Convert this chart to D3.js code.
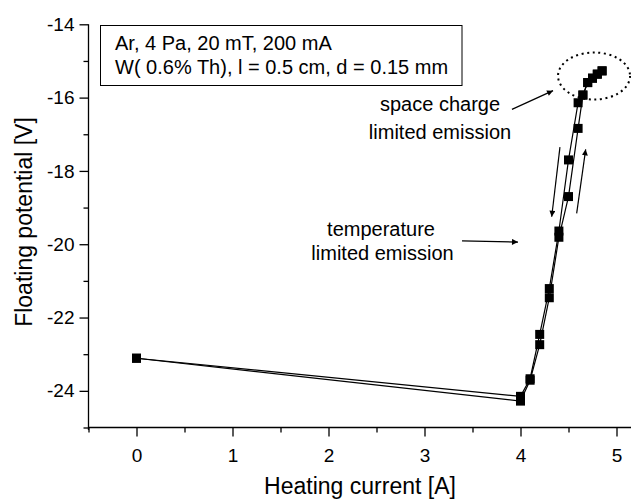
<!DOCTYPE html>
<html>
<head>
<meta charset="utf-8">
<script src="https://cdn.jsdelivr.net/npm/d3@7"></script>
<style>
  html, body { margin: 0; padding: 0; background: #fff; }
  svg { display: block; font-family: "Liberation Sans", Arial, Helvetica, sans-serif; }
</style>
</head>
<body>
<svg id="chart" width="631" height="500"></svg>
<script>
// ---- data ----
const upCurrent   = [0, 4.0, 4.1, 4.2, 4.3, 4.4, 4.5, 4.6, 4.65, 4.7, 4.75, 4.8, 4.85];
const upPotential = [-23.11, -24.28, -23.71, -22.74, -21.46, -19.81, -18.70, -16.84, -15.93, -15.59, -15.47, -15.36, -15.27];
const downCurrent   = [4.85, 4.8, 4.75, 4.7, 4.65, 4.6, 4.5, 4.4, 4.3, 4.2, 4.1, 4.0, 0];
const downPotential = [-15.27, -15.36, -15.47, -15.59, -15.93, -16.14, -17.70, -19.64, -21.21, -22.46, -23.67, -24.15, -23.11];

const xMajorTicks = [0, 1, 2, 3, 4, 5];
const xMinorTicks = [-0.5, 0.5, 1.5, 2.5, 3.5, 4.5];
const yMajorTicks = [-24, -22, -20, -18, -16, -14];
const yMinorTicks = [-25, -23, -21, -19, -17, -15];

const legendLines = ["Ar, 4 Pa, 20 mT, 200 mA", "W( 0.6% Th), l = 0.5 cm, d = 0.15 mm"];
const xTitle = "Heating current [A]";
const yTitle = "Floating potential [V]";

// ---- layout ----
const svg = d3.select("#chart");
const x = d3.scaleLinear().domain([-0.5, 5.2]).range([88.5, 635.7]);
const y = d3.scaleLinear().domain([-25, -14]).range([427.5, 24.3]);

const defs = svg.append("defs");
defs.append("marker")
  .attr("id", "arrow")
  .attr("viewBox", "0 0 10 10")
  .attr("refX", 10).attr("refY", 5)
  .attr("markerUnits", "userSpaceOnUse")
  .attr("markerWidth", 9).attr("markerHeight", 6)
  .attr("orient", "auto")
  .append("path").attr("d", "M0,0 L10,5 L0,10 Z").attr("fill", "#000");

// axes
const axisFont = 19;
const gx = svg.append("g").attr("transform", `translate(0,${y(-25)})`);
gx.call(d3.axisBottom(x).tickValues(xMinorTicks).tickSize(5).tickSizeOuter(0).tickFormat(""));
gx.select(".domain").remove();
const gx2 = svg.append("g").attr("transform", `translate(0,${y(-25)})`);
gx2.call(d3.axisBottom(x).tickValues(xMajorTicks).tickSize(9).tickSizeOuter(0).tickPadding(12).tickFormat(d3.format("d")));
gx2.select(".domain").remove();
svg.append("line").attr("x1", x(-0.5)).attr("x2", 631).attr("y1", y(-25)).attr("y2", y(-25))
  .attr("stroke", "#000").attr("stroke-width", 1.3);

const gy = svg.append("g").attr("transform", `translate(${x(-0.5)},0)`);
gy.call(d3.axisLeft(y).tickValues(yMinorTicks).tickSize(5).tickSizeOuter(0).tickFormat(""));
gy.select(".domain").remove();
const gy2 = svg.append("g").attr("transform", `translate(${x(-0.5)},0)`);
gy2.call(d3.axisLeft(y).tickValues(yMajorTicks).tickSize(9).tickSizeOuter(0).tickPadding(5).tickFormat(d => d3.format("d")(d).replace("−", "-")));
gy2.select(".domain").remove();
svg.append("line").attr("x1", x(-0.5)).attr("x2", x(-0.5)).attr("y1", y(-14)).attr("y2", y(-25) + 2.5)
  .attr("stroke", "#000").attr("stroke-width", 1.3);

svg.selectAll(".tick line").attr("stroke", "#000").attr("stroke-width", 1.3);
svg.selectAll(".tick text").attr("font-size", axisFont).attr("fill", "#000")
  .attr("font-family", '"Liberation Sans", Arial, sans-serif');

// axis titles
svg.append("text").attr("x", 360).attr("y", 494).attr("text-anchor", "middle")
  .attr("font-size", 23).text(xTitle);
svg.append("text").attr("transform", "translate(31.5,222) rotate(-90)").attr("text-anchor", "middle")
  .attr("font-size", 23).text(yTitle);

// legend box
svg.append("rect").attr("x", 100.5).attr("y", 25.5).attr("width", 361.5).attr("height", 60)
  .attr("fill", "#fff").attr("stroke", "#000").attr("stroke-width", 1);
legendLines.forEach((t, i) => {
  svg.append("text").attr("x", 115).attr("y", 49.5 + i * 24.5).attr("font-size", 20).text(t);
});

// data lines
const line = d3.line().x(d => x(d[0])).y(d => y(d[1]));
const upData = upCurrent.map((c, i) => [c, upPotential[i]]);
const downData = downCurrent.map((c, i) => [c, downPotential[i]]);
[upData, downData].forEach(data => {
  svg.append("path").datum(data).attr("d", line)
    .attr("fill", "none").attr("stroke", "#000").attr("stroke-width", 1.2);
});
const ms = 9;
[upData, downData].forEach(data => {
  svg.append("g").selectAll("rect").data(data).join("rect")
    .attr("x", d => x(d[0]) - ms / 2).attr("y", d => y(d[1]) - ms / 2)
    .attr("width", ms).attr("height", ms).attr("fill", "#000");
});

// annotations
svg.append("ellipse").attr("cx", x(4.766)).attr("cy", y(-15.41)).attr("rx", 36).attr("ry", 23.5)
  .attr("fill", "none").attr("stroke", "#000").attr("stroke-width", 2).attr("stroke-dasharray", "2,3.6");

function arrow(x1, y1, x2, y2) {
  svg.append("line").attr("x1", x(x1)).attr("y1", y(y1)).attr("x2", x(x2)).attr("y2", y(y2))
    .attr("stroke", "#000").attr("stroke-width", 1.2).attr("marker-end", "url(#arrow)");
}
arrow(3.911, -16.32, 4.339, -15.81);
arrow(3.391, -19.91, 3.974, -19.94);
arrow(4.411, -17.35, 4.325, -19.25);
arrow(4.585, -19.16, 4.679, -17.41);

const notes = [
  { t: "space charge", cx: 440, by: 111 },
  { t: "limited emission", cx: 440, by: 139 },
  { t: "temperature", cx: 381, by: 236 },
  { t: "limited emission", cx: 382.5, by: 260 }
];
notes.forEach(n => {
  svg.append("text").attr("x", n.cx).attr("y", n.by).attr("text-anchor", "middle")
    .attr("font-size", 20).text(n.t);
});
</script>
</body>
</html>
